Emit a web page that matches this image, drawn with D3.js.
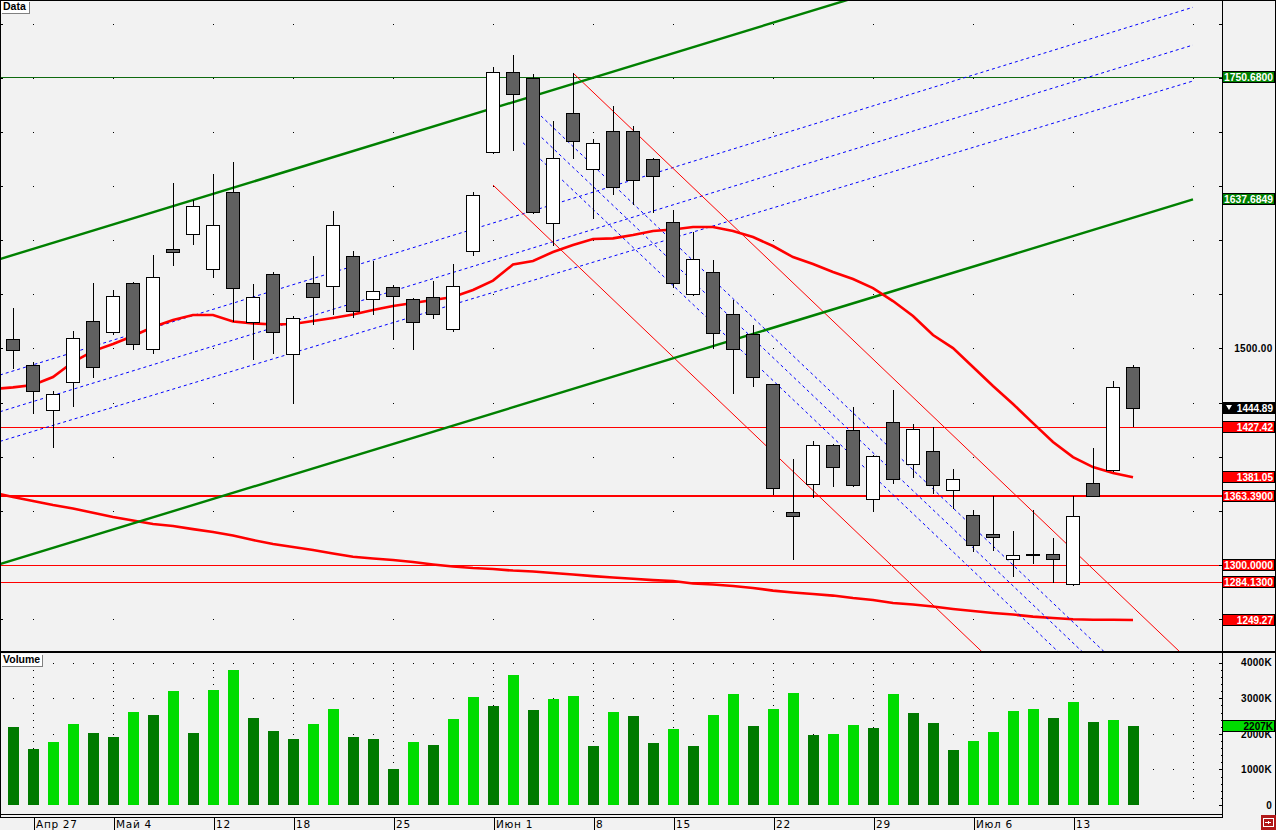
<!DOCTYPE html>
<html><head><meta charset="utf-8">
<script src="https://cdn.jsdelivr.net/npm/d3@7"></script>
<style>
body{margin:0;background:#f2f2f2;}
svg{display:block;}
</style>
</head><body>
<svg id="chart" width="1276" height="830"></svg>
<script>
// ---------- DATA ----------
const dates = ["Апр 24","Апр 27","Апр 28","Апр 29","Апр 30","Май 4","Май 5","Май 6","Май 7","Май 8",
 "Май 12","Май 13","Май 14","Май 15","Май 18","Май 19","Май 20","Май 21","Май 22","Май 25",
 "Май 26","Май 27","Май 28","Май 29","Июн 1","Июн 2","Июн 3","Июн 4","Июн 5","Июн 8",
 "Июн 9","Июн 10","Июн 11","Июн 15","Июн 16","Июн 17","Июн 18","Июн 19","Июн 22","Июн 23",
 "Июн 24","Июн 25","Июн 26","Июн 29","Июн 30","Июл 1","Июл 2","Июл 3","Июл 6","Июл 7",
 "Июл 8","Июл 9","Июл 10","Июл 13","Июл 14","Июл 15","Июл 16"];
const open = [1508.7,1484.4,1442.9,1468.7,1525.0,1514.9,1560.1,1499.5,1591.8,1605.4,
 1573.4,1644.2,1524.4,1568.5,1494.6,1560.1,1557.6,1585.1,1545.4,1556.5,
 1545.4,1547.2,1517.7,1589.7,1681.1,1755.0,1749.5,1615.6,1717.2,1665.4,
 1700.6,1700.6,1674.7,1616.5,1550.0,1570.3,1531.5,1513.0,1466.9,1348.7,
 1374.5,1410.5,1424.4,1360.7,1431.8,1393.0,1405.0,1369.0,1345.9,1328.3,
 1305.3,1309.9,1309.9,1282.2,1375.4,1387.5,1482.6];
const high = [1537.3,1487.5,1460.7,1516.1,1560.4,1554.0,1561.0,1586.3,1652.8,1637.0,
 1661.1,1672.2,1559.5,1570.6,1530.0,1585.4,1626.9,1590.0,1580.5,1558.6,
 1546.5,1562.3,1577.7,1644.2,1759.6,1770.7,1753.2,1709.8,1754.0,1693.1,
 1723.6,1705.2,1675.6,1627.9,1607.8,1581.7,1544.7,1521.7,1467.5,1397.9,
 1414.5,1411.5,1445.6,1402.0,1461.3,1430.0,1427.2,1388.4,1350.5,1363.5,
 1331.1,1350.5,1324.7,1363.5,1407.8,1469.6,1484.4];
const low = [1482.0,1440.6,1409.0,1447.1,1473.9,1513.0,1499.8,1496.0,1577.3,1596.7,
 1565.7,1525.3,1490.5,1496.0,1450.2,1522.3,1532.1,1529.0,1531.5,1508.4,
 1499.8,1527.8,1515.8,1586.2,1680.5,1683.0,1624.8,1595.2,1675.6,1620.8,
 1642.4,1633.2,1625.6,1556.5,1549.0,1500.0,1458.6,1465.0,1365.6,1305.8,
 1363.1,1373.0,1372.7,1350.2,1376.0,1381.0,1366.2,1352.4,1312.7,1313.6,
 1289.6,1301.6,1284.0,1281.3,1364.0,1387.0,1428.0];
const close = [1498.6,1460.7,1457.6,1509.4,1482.6,1548.4,1504.1,1566.0,1588.8,1631.3,
 1613.7,1555.8,1547.2,1514.9,1527.8,1547.2,1613.7,1534.6,1552.8,1548.2,
 1524.2,1531.5,1557.4,1641.4,1755.0,1734.6,1625.6,1675.6,1691.3,1689.4,
 1649.0,1655.3,1659.0,1560.2,1582.3,1513.9,1499.2,1473.3,1370.8,1345.0,
 1410.5,1390.2,1373.6,1400.4,1379.1,1425.3,1373.6,1379.1,1318.2,1325.6,
 1309.0,1309.9,1305.3,1344.9,1364.0,1464.1,1444.89];
// volume in thousands
const volume = [2192,1574,1771,2277,2024,1911,2614,2529,3204,2024,
 3232,3794,2445,2080,1855,2277,2698,1911,1855,1012,
 1771,1686,2417,3035,2782,3654,2670,2979,3064,1658,
 2614,2501,1743,2136,1658,2529,3120,2220,2698,3148,
 1967,1996,2248,2164,3120,2586,2305,1546,1799,2052,
 2642,2698,2445,2895,2333,2389,2207];
// moving averages, first value belongs to the bar before the first visible bar
const maStart = -1;
const maFast = [1462.5,1464.1,1466.2,1473.6,1487.5,1497.6,1504.1,1511.5,1519.8,1526.3,
 1530.9,1530.9,1524.9,1523.2,1522.1,1522.6,1525.3,1528.1,1531.3,1535.5,
 1539.2,1542.0,1544.7,1547.5,1554.0,1562.7,1577.5,1580.8,1589.1,1595.5,
 1601.1,1601.7,1604.8,1608.5,1609.8,1612.2,1612.2,1608.5,1602.9,1594.6,
 1584.4,1578.0,1570.6,1564.1,1555.8,1543.8,1530.0,1512.4,1500.4,1482.9,
 1465.3,1448.7,1431.1,1413.6,1399.7,1390.5,1385.0,1381.05];
const maSlow = [1367.0,1362.8,1359.1,1355.4,1352.2,1348.3,1344.3,1341.1,1337.9,1336.0,
 1333.2,1330.5,1327.2,1323.1,1319.4,1316.6,1313.9,1310.6,1307.7,1306.0,
 1304.6,1302.8,1300.5,1298.6,1297.2,1296.3,1294.9,1294.0,1292.6,1291.2,
 1289.8,1288.5,1287.3,1286.1,1285.2,1282.9,1282.0,1280.6,1278.8,1276.4,
 1274.6,1273.2,1271.8,1269.5,1267.7,1264.9,1263.5,1261.7,1259.4,1257.5,
 1255.7,1254.3,1252.4,1251.1,1249.9,1249.5,1249.5,1249.27];
// drawn objects in [bar index, price]
const greenChannel = [[[-0.65,1582.6],[59,1919.4]], [[-0.65,1300.9],[59,1637.6849]]];
const blueUpLines = [[[-0.65,1475.5],[59,1815.1]], [[-0.65,1441.6],[59,1780.2]], [[-0.65,1414.2],[59,1747.0]]];
const blueDownLines = [[[26.4,1714.7],[54.6,1219.2]], [[26.0,1702.4],[53.45,1220.2]], [[25.5,1690.0],[52.3,1219.2]]];
const redDownLines = [[[28,1754.4],[58.4,1218.8]], [[24,1650.9],[48.5,1219.0]]];
const greenLevels = [1750.68];
const redLevels = [1427.42, 1363.39, 1300.00, 1284.13];
// axis ticks
const tickIdx = [1,5,10,14,19,24,29,33,38,43,48,53];
const tickLabels = ["Апр 27","Май 4","12","18","25","Июн 1","8","15","22","29","Июл 6","13"];
const priceTicks = [1250,1300,1350,1400,1450,1500,1550,1600,1650,1700,1750,1800];
const priceLabelTicks = [1500];
const volTicks = [0,1000,2000,3000,4000];
const volMinorTicks = d3.range(0, 4001, 200);

// ---------- LAYOUT ----------
const svg = d3.select("#chart");
const PR = 1222;            // right edge of plotting panels
const x = d3.scaleLinear().domain([0, 56]).range([13, 1133]);
const y = d3.scaleLinear().domain([1219.7, 1821.8]).range([652, 0]);
const yv = d3.scaleLinear().domain([0, 4000]).range([805, 662.7]);
const R = v => Math.round(v);
const LBL_FONT = "'Liberation Sans', Arial, sans-serif";

svg.append("rect").attr("width",1276).attr("height",830).attr("fill","#f2f2f2");

const defs = svg.append("defs");
defs.append("clipPath").attr("id","mainClip").append("rect")
  .attr("x",1).attr("y",1).attr("width",PR-1).attr("height",650);

// ---------- MAIN PANEL GRID ----------
const gridCols = tickIdx.map(i => R(x(i))).concat([1193]);
const gGrid = svg.append("g").attr("shape-rendering","crispEdges");
priceTicks.forEach(p => {
  const yy = R(y(p));
  gridCols.forEach(cx => gGrid.append("rect").attr("x",cx).attr("y",yy).attr("width",1).attr("height",1).attr("fill","#000"));
  gGrid.append("rect").attr("x",1).attr("y",yy).attr("width",2).attr("height",1).attr("fill","#000");
});

const main = svg.append("g").attr("clip-path","url(#mainClip)");
const lineGen = d3.line().x(d => x(d[0])).y(d => y(d[1]));

// horizontal levels (solid pixel rows)
greenLevels.forEach(p => main.append("rect").attr("x",0).attr("width",PR)
  .attr("y",R(y(p))).attr("height",1).attr("fill","#0f6a0f").attr("shape-rendering","crispEdges"));
redLevels.forEach((p,k) => main.append("rect").attr("x",0).attr("width",PR)
  .attr("y",R(y(p)) - (k===1?1:0)).attr("height",k===1?2:1).attr("fill","#ff0000").attr("shape-rendering","crispEdges"));

// slow MA
const maPts = arr => arr.map((v,k) => [k+maStart, v]);
main.append("path").attr("d", lineGen(maPts(maSlow))).attr("fill","none").attr("stroke","#ff0000").attr("stroke-width",2.6);

// blue parallel dashed lines
blueUpLines.forEach(l => main.append("path").attr("d", lineGen(l)).attr("fill","none")
  .attr("stroke","#0000ff").attr("stroke-width",1).attr("stroke-dasharray","3,3"));
blueDownLines.forEach(l => main.append("path").attr("d", lineGen(l)).attr("fill","none")
  .attr("stroke","#0000ff").attr("stroke-width",1).attr("stroke-dasharray","3,3"));
// red thin channel
redDownLines.forEach(l => main.append("path").attr("d", lineGen(l)).attr("fill","none")
  .attr("stroke","#ff0000").attr("stroke-width",1));
// green channel
greenChannel.forEach(l => main.append("path").attr("d", lineGen(l)).attr("fill","none")
  .attr("stroke","#008000").attr("stroke-width",2.4));
// fast MA
main.append("path").attr("d", lineGen(maPts(maFast))).attr("fill","none").attr("stroke","#ff0000").attr("stroke-width",2.6);

// candles
const candles = main.append("g").attr("shape-rendering","crispEdges");
open.forEach((o,i) => {
  const cx = R(x(i));
  const c = close[i];
  const up = c >= o;
  candles.append("line").attr("x1",cx+0.5).attr("x2",cx+0.5)
    .attr("y1",R(y(high[i]))).attr("y2",R(y(low[i]))+1).attr("stroke","#000");
  const yt = R(y(Math.max(o,c))), yb = R(y(Math.min(o,c)));
  candles.append("rect").attr("x",cx-6.5).attr("y",yt+0.5)
    .attr("width",13).attr("height",Math.max(yb-yt,1))
    .attr("fill", up ? "#ffffff" : "#606060").attr("stroke","#000").attr("stroke-width",1);
});

// ---------- VOLUME PANEL ----------
const gv = svg.append("g").attr("shape-rendering","crispEdges");
gridCols.forEach(cx => volMinorTicks.filter(v => v>0).forEach(v =>
  gv.append("rect").attr("x",cx).attr("y",R(yv(v))).attr("width",1).attr("height",1).attr("fill","#000")));
volTicks.filter(v => v>0).forEach(v => d3.range(0,60).forEach(i =>
  gv.append("rect").attr("x",R(x(i))).attr("y",R(yv(v))).attr("width",1).attr("height",1).attr("fill","#000")));
volume.forEach((v,i) => {
  const upv = i > 0 && v > volume[i-1];
  const top = R(yv(v));
  gv.append("rect").attr("x",R(x(i))-5).attr("y",top).attr("width",11).attr("height",805-top)
    .attr("fill", upv ? "#00dc00" : "#007a00");
});

// ---------- FRAMES ----------
const fr = svg.append("g").attr("shape-rendering","crispEdges").attr("stroke","#000").attr("fill","none");
fr.append("line").attr("x1",0).attr("x2",1276).attr("y1",0.5).attr("y2",0.5);
fr.append("line").attr("x1",0.5).attr("x2",0.5).attr("y1",0).attr("y2",817);
fr.append("line").attr("x1",0).attr("x2",1276).attr("y1",652).attr("y2",652).attr("stroke-width",2);
fr.append("line").attr("x1",0).attr("x2",PR+1).attr("y1",814.5).attr("y2",814.5);
fr.append("line").attr("x1",0).attr("x2",PR+1).attr("y1",817.5).attr("y2",817.5);
fr.append("line").attr("x1",PR+0.5).attr("x2",PR+0.5).attr("y1",0).attr("y2",818);
fr.append("line").attr("x1",1275.5).attr("x2",1275.5).attr("y1",0).attr("y2",815);

// ---------- AXES ----------
const yAxis = d3.axisRight(y).tickValues(priceTicks).tickSizeInner(-4).tickSizeOuter(0)
  .tickFormat(p => priceLabelTicks.includes(p) ? p.toFixed(2) : "");
const ga = svg.append("g").attr("transform",`translate(${PR+0.5},0)`).call(yAxis);
ga.select(".domain").remove();
ga.selectAll(".tick line").attr("stroke","#000").attr("shape-rendering","crispEdges");
ga.selectAll(".tick text").attr("x",50).attr("text-anchor","end").attr("fill","#000")
  .style("font-family",LBL_FONT).style("font-weight","bold").style("font-size","10px").style("letter-spacing","0.3px");

const vAxisMinor = d3.axisRight(yv).tickValues(volMinorTicks).tickSizeInner(-2).tickSizeOuter(0).tickFormat("");
const gvm = svg.append("g").attr("transform",`translate(${PR+0.5},0)`).call(vAxisMinor);
gvm.select(".domain").remove();
gvm.selectAll(".tick line").attr("stroke","#000").attr("shape-rendering","crispEdges");
const vAxis = d3.axisRight(yv).tickValues(volTicks).tickSizeInner(-4).tickSizeOuter(0)
  .tickFormat(v => v === 0 ? "0" : v + "K");
const gva = svg.append("g").attr("transform",`translate(${PR+0.5},0)`).call(vAxis);
gva.select(".domain").remove();
gva.selectAll(".tick line").attr("stroke","#000").attr("shape-rendering","crispEdges");
gva.selectAll(".tick text").attr("x",49.5).attr("text-anchor","end").attr("fill","#000")
  .style("font-family",LBL_FONT).style("font-weight","bold").style("font-size","10px").style("letter-spacing","0.3px");

const xAxis = d3.axisBottom(x).tickValues(tickIdx).tickSizeInner(13).tickSizeOuter(0)
  .tickFormat((d,k) => tickLabels[k]);
const gx = svg.append("g").attr("transform","translate(0.5,817)").call(xAxis);
gx.select(".domain").remove();
gx.selectAll(".tick line").attr("stroke","#000").attr("shape-rendering","crispEdges");
gx.selectAll(".tick text").attr("x",2).attr("y",0).attr("dy","11.3px").attr("text-anchor","start").attr("fill","#000")
  .style("font-family","'DejaVu Sans', sans-serif").style("font-size","10.5px").style("letter-spacing","0.7px");

// ---------- VALUE LABELS ----------
function valueLabel(yc, text, bg, fg, marker) {
  const top = R(yc) - 6;
  const g = svg.append("g");
  g.append("rect").attr("x",PR+0.5).attr("y",top+0.5).attr("width",52).attr("height",11)
    .attr("fill",bg).attr("stroke","#000").attr("shape-rendering","crispEdges");
  const t = g.append("text").attr("x",1273).attr("y",top+10).attr("text-anchor","end").attr("fill",fg)
    .style("font-family",LBL_FONT).style("font-weight","bold").style("font-size","10px")
    .text(text);
  if (text.length >= 9) t.attr("textLength",49).attr("lengthAdjust","spacingAndGlyphs");
  if (marker) g.append("path").attr("d",`M${PR+4},${top+3}h6l-3,5z`).attr("fill",fg);
}
valueLabel(y(greenLevels[0]), greenLevels[0].toFixed(4), "#008000", "#fff");
valueLabel(y(greenChannel[1][1][1]), greenChannel[1][1][1].toFixed(4), "#008000", "#fff");
valueLabel(y(close[close.length-1]), close[close.length-1].toFixed(2), "#000", "#fff", true);
valueLabel(y(redLevels[0]), redLevels[0].toFixed(2), "#ff0000", "#fff");
valueLabel(y(maFast[maFast.length-1]), maFast[maFast.length-1].toFixed(2), "#ff0000", "#fff");
valueLabel(y(redLevels[1]), redLevels[1].toFixed(4), "#ff0000", "#fff");
valueLabel(y(redLevels[2]), redLevels[2].toFixed(4), "#ff0000", "#fff");
valueLabel(y(redLevels[3]), redLevels[3].toFixed(4), "#ff0000", "#fff");
valueLabel(y(maSlow[maSlow.length-1]), maSlow[maSlow.length-1].toFixed(2), "#ff0000", "#fff");
valueLabel(yv(volume[volume.length-1]), volume[volume.length-1] + "K", "#00dc00", "#000");

// ---------- PANEL TITLES ----------
function panelTitle(x0, y0, w, h, text) {
  const g = svg.append("g").attr("shape-rendering","crispEdges");
  g.append("rect").attr("x",x0+1).attr("y",y0+1).attr("width",w).attr("height",h).attr("fill","#808080");
  g.append("rect").attr("x",x0).attr("y",y0).attr("width",w).attr("height",h).attr("fill","#ffffff");
  g.append("text").attr("x",x0+2).attr("y",y0+h-3).attr("fill","#000")
    .style("font-family",LBL_FONT).style("font-weight","bold").style("font-size","10.5px").text(text);
}
panelTitle(1, 1, 28, 12, "Data");
panelTitle(1, 654, 41, 12, "Volume");

// bottom-right button
const bt = svg.append("g").attr("shape-rendering","crispEdges");
bt.append("rect").attr("x",1261).attr("y",815).attr("width",15).attr("height",15).attr("fill","#b01818");
bt.append("rect").attr("x",1263.5).attr("y",818.5).attr("width",10).attr("height",8).attr("fill","none").attr("stroke","#fff");
bt.append("path").attr("d","M1265,822.5h5").attr("stroke","#fff");
bt.append("path").attr("d","M1268,820.5l2.5,2l-2.5,2z").attr("fill","#fff");
</script>
</body></html>
